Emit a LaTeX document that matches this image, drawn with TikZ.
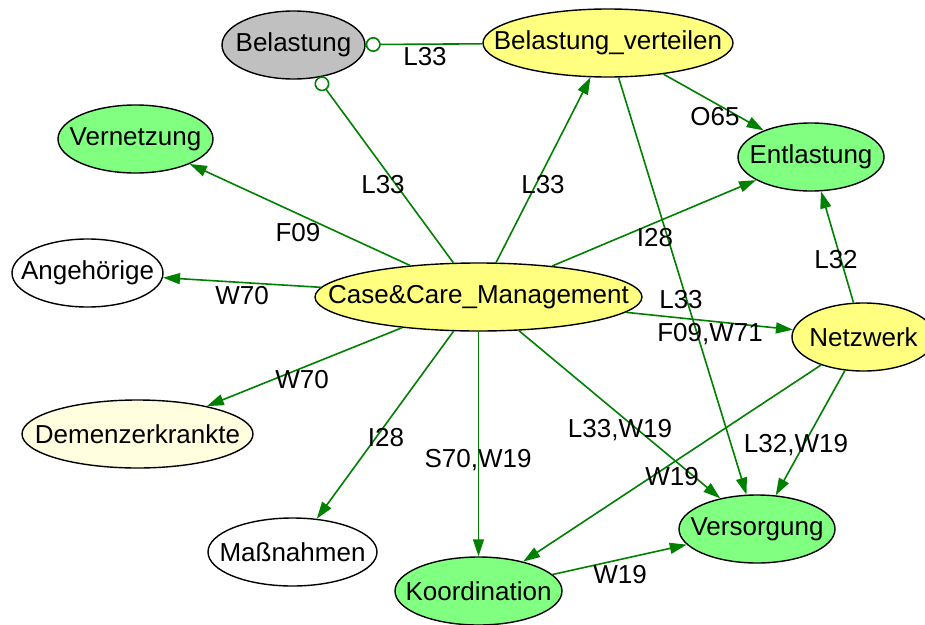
\documentclass[tikz,border=0pt]{standalone}
\usepackage{fontspec}
\setmainfont{Liberation Sans}
\usetikzlibrary{arrows.meta,shapes.geometric}
\definecolor{edgegreen}{RGB}{0,128,0}
\definecolor{nodegray}{RGB}{192,192,192}
\definecolor{nodeyellow}{RGB}{255,255,128}
\definecolor{nodegreen}{RGB}{128,255,128}
\definecolor{nodepale}{RGB}{255,255,224}
% zero-width label box so the ellipse size is set only by minimum width/height
\newcommand\nodetext[1]{\makebox[0pt]{#1}}
\begin{document}
\begin{tikzpicture}[x=1pt,y=-1pt,
  every node/.style={font=\fontsize{26}{30}\selectfont},
  blob/.style={ellipse, draw=black, line width=1.4pt, inner sep=0pt, minimum height=68pt},
  link/.style={draw=edgegreen, line width=1.6pt, -{Triangle[length=17pt,width=11pt]}},
  plug/.style={draw=edgegreen, line width=1.6pt, -{Circle[open,length=15pt,width=15pt,line width=1.6pt]}},
  tag/.style={inner sep=0pt}
]
\useasboundingbox (0,0) rectangle (925,624);
\fill[white] (0,0) rectangle (925,624);
\clip (0,0) rectangle (925,624);

% concepts
\node[blob, fill=nodegray,   minimum width=143pt] (bel)  at (293.5,45)  {\nodetext{Belastung}};
\node[blob, fill=nodeyellow, minimum width=250pt] (belv) at (608,43)    {\nodetext{Belastung\_verteilen}};
\node[blob, fill=nodegreen,  minimum width=155pt] (vern) at (135.5,139) {\nodetext{Vernetzung}};
\node[blob, fill=nodegreen,  minimum width=146pt] (entl) at (811,157)   {\nodetext{Entlastung}};
\node[blob, fill=white,      minimum width=151pt] (ang)  at (87.5,273)  {\nodetext{Angehörige}};
\node[blob, fill=nodeyellow, minimum width=327pt] (ccm)  at (478.5,297) {\nodetext{Case\&Care\_Management}};
\node[blob, fill=nodeyellow, minimum width=143pt] (netz) at (863.5,337) {\nodetext{Netzwerk}};
\node[blob, fill=nodepale,   minimum width=231pt] (dem)  at (137.5,434) {\nodetext{Demenzerkrankte}};
\node[blob, fill=white,      minimum width=169pt] (mass) at (292.5,552) {\nodetext{Maßnahmen}};
\node[blob, fill=nodegreen,  minimum width=167pt] (koor) at (478.5,591) {\nodetext{Koordination}};
\node[blob, fill=nodegreen,  minimum width=156pt] (vers) at (757,529)   {\nodetext{Versorgung}};

% relations
\draw[plug] (belv) -- (bel);
\draw[plug] (ccm) -- (bel);
\draw[link] (ccm) -- (vern);
\draw[link] (ccm) -- (belv);
\draw[link] (ccm) -- (entl);
\draw[link] (ccm) -- (ang);
\draw[link] (ccm) -- (netz);
\draw[link] (ccm) -- (dem);
\draw[link] (ccm) -- (mass);
\draw[link] (ccm) -- (koor);
\draw[link] (ccm) -- (vers);
\draw[link] (belv) -- (entl);
\draw[link] (belv) -- (vers);
\draw[link] (netz) -- (entl);
\draw[link] (netz) -- (vers);
\draw[link] (netz) -- (koor);
\draw[link] (koor) -- (vers);

% relation codes
\node[tag] (t1)  at (425,57)  {L33};
\node[tag] (t2)  at (383,185) {L33};
\node[tag] (t3)  at (298,233) {F09};
\node[tag] (t4)  at (543,185) {L33};
\node[tag] (t5)  at (655,238) {I28};
\node[tag] (t6)  at (242,296) {W70};
\node[tag] (t7)  at (710,334) {F09,W71};
\node[tag] (t8)  at (302,380) {W70};
\node[tag] (t9)  at (386,438) {I28};
\node[tag] (t10) at (478,460) {S70,W19};
\node[tag] (t11) at (620,430) {L33,W19};
\node[tag] (t12) at (715,117) {O65};
\node[tag] (t13) at (681,300) {L33};
\node[tag] (t14) at (836,260) {L32};
\node[tag] (t15) at (796,445) {L32,W19};
\node[tag] (t16) at (672,477) {W19};
\node[tag] (t17) at (620,575) {W19};
\end{tikzpicture}
\end{document}
